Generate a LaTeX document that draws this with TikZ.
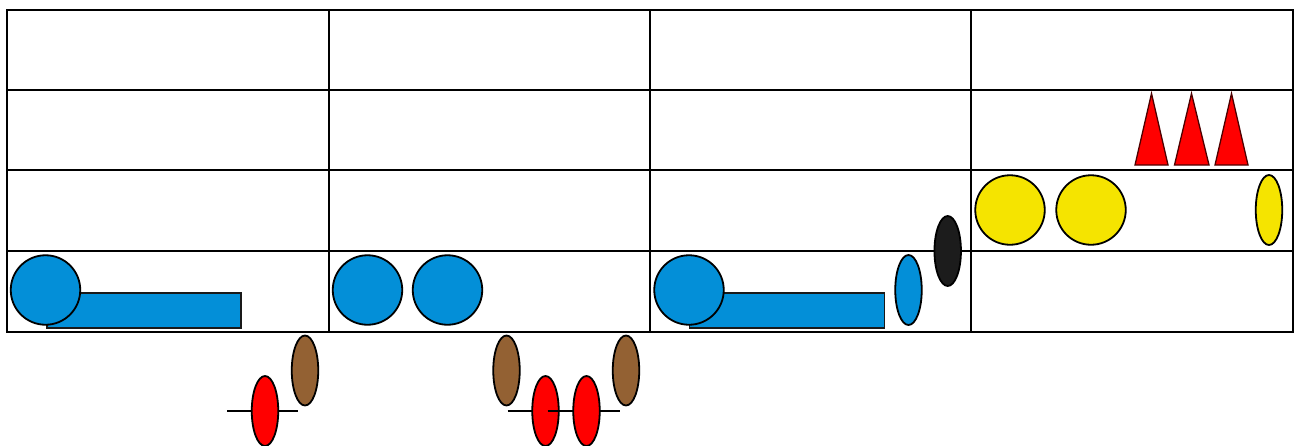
\documentclass[tikz,border=0pt]{standalone}
\usetikzlibrary{shapes.geometric}
\definecolor{noteblue}{RGB}{3,143,216}
\definecolor{noteyellow}{RGB}{245,228,0}
\definecolor{notebrown}{RGB}{147,97,51}
\definecolor{notered}{RGB}{255,0,0}
\definecolor{noteblack}{RGB}{28,28,28}
\begin{document}
\begin{tikzpicture}[x=1pt,y=-1pt,
 gridline/.style={line width=2pt, draw=black},
 bignote/.style={circle, draw=black, line width=1.8pt, minimum size=69.5pt, inner sep=0pt},
 smallnote/.style={ellipse, draw=black, line width=1.8pt, minimum width=26.5pt, minimum height=70pt, inner sep=0pt},
 sustain/.style={rectangle, draw=black!90, line width=1.5pt, fill=noteblue, minimum height=35pt, inner sep=0pt, anchor=north west},
 cymbal/.style={draw=black!70!red, line width=1.3pt, fill=notered, line join=miter},
 ledger/.style={line width=1.8pt, draw=black}
]
\useasboundingbox (0,0) rectangle (1298,445);
\clip (0,0) rectangle (1298,445);
% grid
\draw[gridline] (7,10) rectangle (1292.5,331.5);
\draw[gridline] (7,90) -- (1292.5,90);
\draw[gridline] (7,170) -- (1292.5,170);
\draw[gridline] (7,250.5) -- (1292.5,250.5);
\draw[gridline] (328.5,10) -- (328.5,331.5);
\draw[gridline] (650,10) -- (650,331.5);
\draw[gridline] (971,10) -- (971,331.5);
% column 1
\node[sustain, minimum width=194pt] (s1) at (46,292) {};
\node[bignote, fill=noteblue] (c1) at (45.5,290) {};
\node[smallnote, fill=notebrown] (b1) at (305,370.5) {};
\coordinate (r1pos) at (265,411);
\draw[ledger] ([xshift=-38pt]r1pos) -- ([xshift=33pt]r1pos);
\node[smallnote, fill=notered] (r1) at (r1pos) {};
% column 2
\node[bignote, fill=noteblue] (c2) at (367.5,290) {};
\node[bignote, fill=noteblue] (c3) at (447.5,290) {};
\node[smallnote, fill=notebrown] (b2) at (506.5,370.5) {};
\node[smallnote, fill=notebrown] (b3) at (626,370.5) {};
\coordinate (r2pos) at (545.5,411);
\coordinate (r3pos) at (586.5,411);
\draw[ledger] ([xshift=-38pt]r2pos) -- ([xshift=35pt]r2pos);
\node[smallnote, fill=notered] (r2) at (r2pos) {};
\draw[ledger] ([xshift=-39pt]r3pos) -- ([xshift=33pt]r3pos);
\node[smallnote, fill=notered] (r3) at (r3pos) {};
% column 3
\node[sustain, minimum width=195pt] (s2) at (688.5,292) {};
\node[bignote, fill=noteblue] (c4) at (689,290) {};
\node[smallnote, fill=noteblue] (e1) at (908.5,290) {};
\node[smallnote, fill=noteblack] (k1) at (947.7,251) {};
% column 4
\node[bignote, fill=noteyellow] (y1) at (1010,210) {};
\node[bignote, fill=noteyellow] (y2) at (1091,210) {};
\node[smallnote, fill=noteyellow] (y3) at (1269,210) {};
\draw[cymbal] (1135,165) -- (1151.5,93.5) -- (1168,165) -- cycle;
\draw[cymbal] (1174.5,165) -- (1191.5,93.5) -- (1209,165) -- cycle;
\draw[cymbal] (1215,165) -- (1231.5,93.5) -- (1248,165) -- cycle;
\end{tikzpicture}
\end{document}
